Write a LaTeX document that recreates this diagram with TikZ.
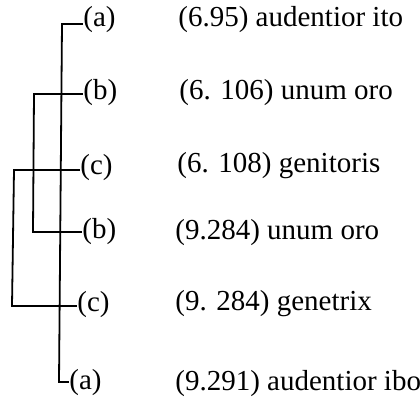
\documentclass[tikz,border=0pt]{standalone}
\usepackage{fontspec}
\setmainfont{Liberation Serif}
\begin{document}
\begin{tikzpicture}[x=0.5pt,y=-0.5pt,
  lab/.style={anchor=west,inner sep=0pt,font=\fontsize{14.5}{17}\selectfont},
  txt/.style={anchor=west,inner sep=0pt,font=\fontsize{14.5}{17}\selectfont},
  br/.style={line width=0.9pt}]
\useasboundingbox (0,0) rectangle (420,407);
% left labels
\node[lab] (a1) at (83,20) {(a)};
\node[lab] (b1) at (83,93) {(b)};
\node[lab] (c1) at (80,168) {(c)};
\node[lab] (b2) at (82,232) {(b)};
\node[lab] (c2) at (77,305) {(c)};
\node[lab] (a2) at (69,383) {(a)};
% right texts
\node[txt] (t1) at (178,20) {(6.95) audentior ito};
\node[txt] (t2) at (179,93) {(6. 106) unum oro};
\node[txt] (t3) at (177,166) {(6. 108) genitoris};
\node[txt] (t4) at (175,233) {(9.284) unum oro};
\node[txt] (t5) at (175,304) {(9. 284) genetrix};
\node[txt] (t6) at (175,384) {(9.291) audentior ibo};
% bracket corners
\coordinate (at) at (62,24);
\coordinate (ab) at (59,382);
\coordinate (bt) at (34,94);
\coordinate (bb) at (33,232);
\coordinate (ct) at (14,170);
\coordinate (cb) at (12,306);
\draw[br] (a1.west |- at) -- (at) -- (ab) -- (a2.west |- ab);
\draw[br] (b1.west |- bt) -- (bt) -- (bb) -- (b2.west |- bb);
\draw[br] (c1.west |- ct) -- (ct) -- (cb) -- (c2.west |- cb);
\end{tikzpicture}
\end{document}
